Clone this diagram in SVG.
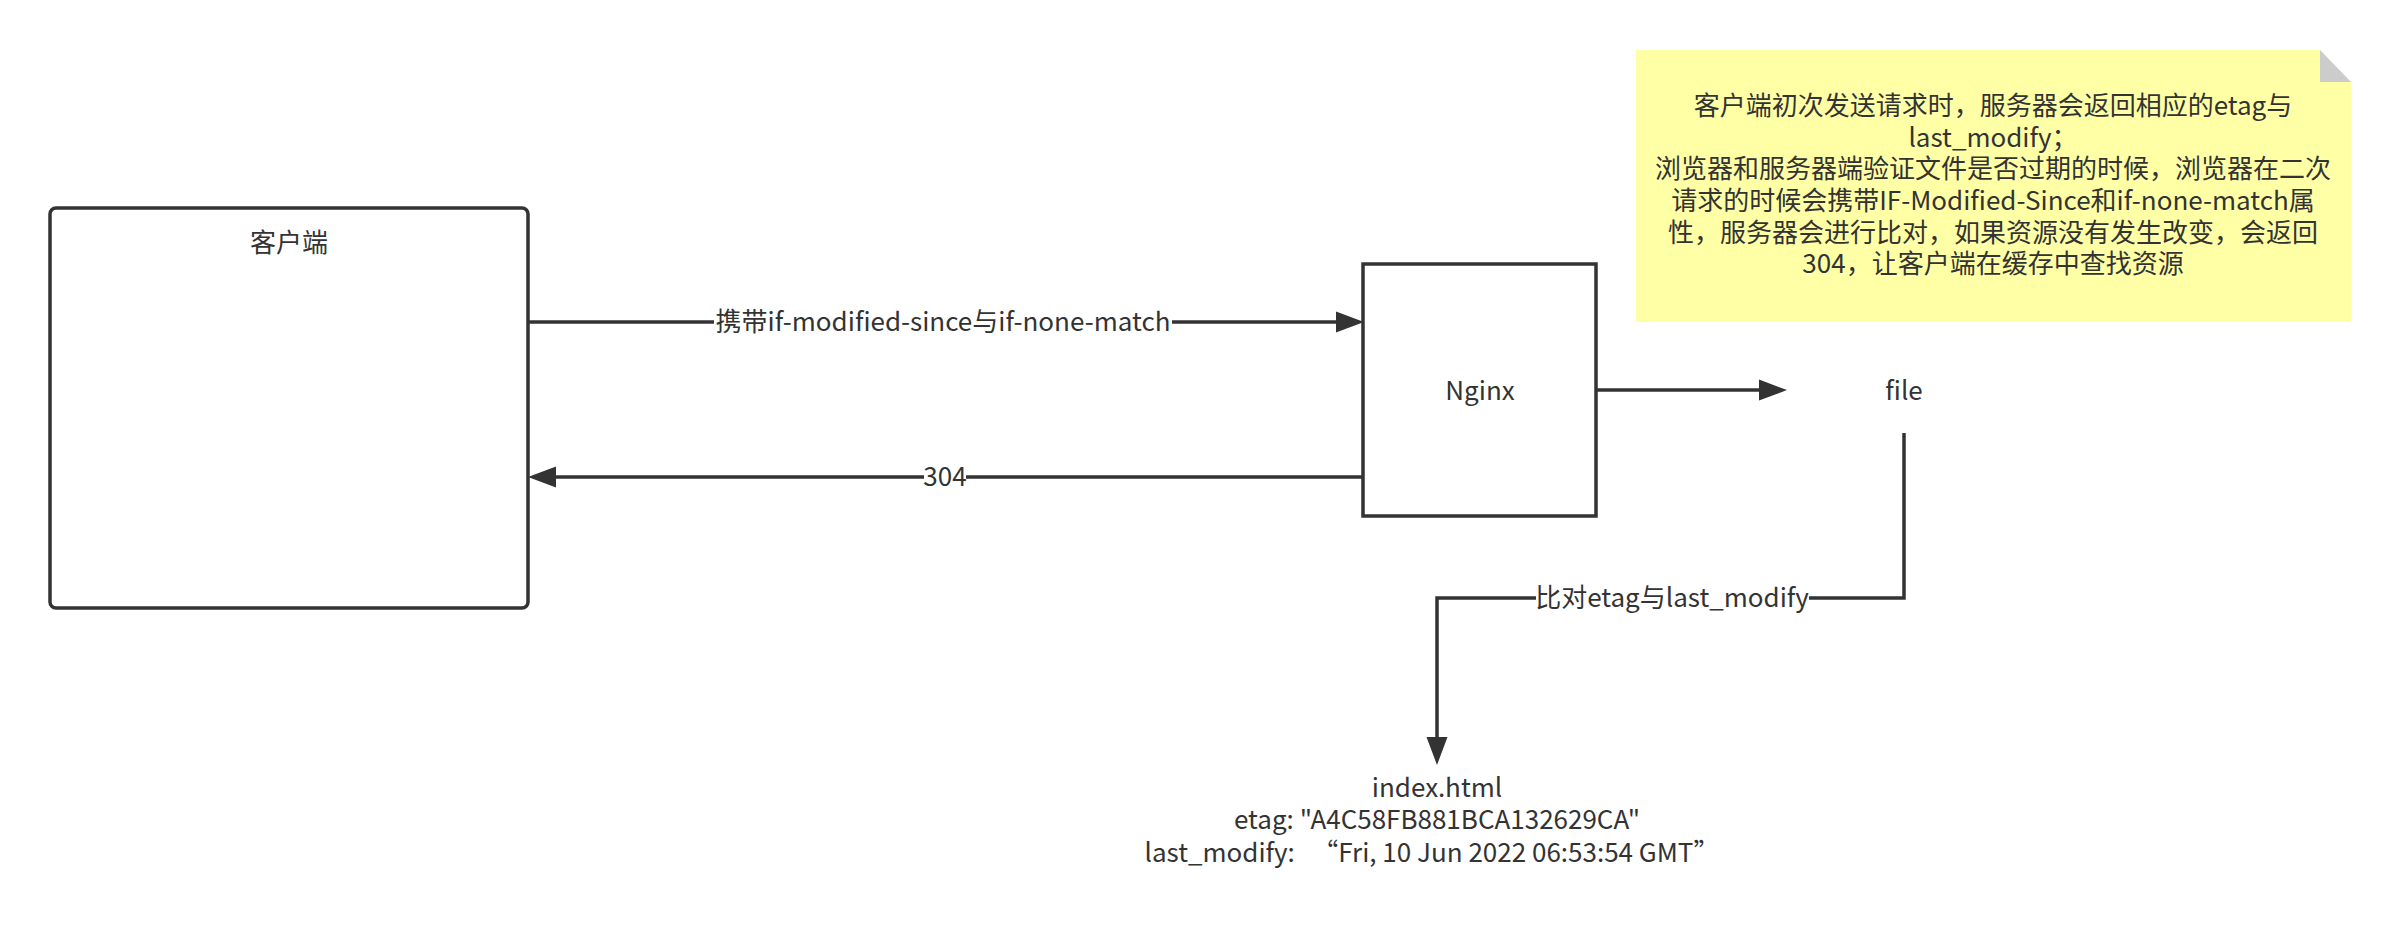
<svg xmlns="http://www.w3.org/2000/svg" width="2402" height="926" viewBox="0 0 2402 926">
<defs>
<style>
.t{font-family:"Noto Sans CJK SC","Noto Sans",sans-serif;font-size:26px;fill:#333333;text-anchor:middle}
.box{fill:#ffffff;stroke:#333333;stroke-width:3.5}
.edge{fill:none;stroke:#333333;stroke-width:3.5}
.lbl{fill:#ffffff}
</style>
<marker id="arr" markerUnits="userSpaceOnUse" markerWidth="30" markerHeight="22" refX="0" refY="10.5" orient="auto" overflow="visible">
<path d="M0,0 L28,10.5 L0,21 Z" fill="#333333"/>
</marker>
</defs>
<rect width="2402" height="926" fill="#ffffff"/>
<g id="client">
<rect class="box" x="50" y="208" width="478" height="400" rx="6"/>
<text class="t" x="289" y="252">客户端</text>
</g>
<g id="nginx">
<rect class="box" x="1363" y="264" width="233" height="252"/>
<text class="t" x="1480" y="400">Nginx</text>
</g>
<g id="file">
<text class="t" x="1904" y="400">file</text>
</g>
<g id="index">
<text class="t" x="1437" y="797">index.html</text>
<text class="t" x="1437" y="829">etag: "A4C58FB881BCA132629CA"</text>
<text class="t" x="1432" y="862" xml:space="preserve">last_modify:   “Fri, 10 Jun 2022 06:53:54 GMT”</text>
</g>
<g id="note">
<path d="M1636,50 H2320 L2351,82 V322 H1636 Z" fill="#ffffa6"/>
<path d="M2320,50 L2351,82 H2320 Z" fill="#cccccc"/>
<text class="t" x="1993" y="115">客户端初次发送请求时，服务器会返回相应的etag与</text>
<text class="t" x="1993" y="147">last_modify；</text>
<text class="t" x="1993" y="178">浏览器和服务器端验证文件是否过期的时候，浏览器在二次</text>
<text class="t" x="1993" y="210">请求的时候会携带IF-Modified-Since和if-none-match属</text>
<text class="t" x="1993" y="242">性，服务器会进行比对，如果资源没有发生改变，会返回</text>
<text class="t" x="1993" y="273">304，让客户端在缓存中查找资源</text>
</g>
<g id="connectors">
<path class="edge" d="M528,322 H1336" marker-end="url(#arr)"/>
<rect class="lbl" x="714" y="306" width="458" height="32"/>
<text class="t" x="943" y="331">携带if-modified-since与if-none-match</text>
<path class="edge" d="M1363,477 H556" marker-end="url(#arr)"/>
<rect class="lbl" x="924" y="461" width="42" height="32"/>
<text class="t" x="945" y="486">304</text>
<path class="edge" d="M1596,390 H1759" marker-end="url(#arr)"/>
<path class="edge" d="M1904,433 V598 H1437 V737" marker-end="url(#arr)"/>
<rect class="lbl" x="1536" y="582" width="273" height="32"/>
<text class="t" x="1672" y="607">比对etag与last_modify</text>
</g>
</svg>
